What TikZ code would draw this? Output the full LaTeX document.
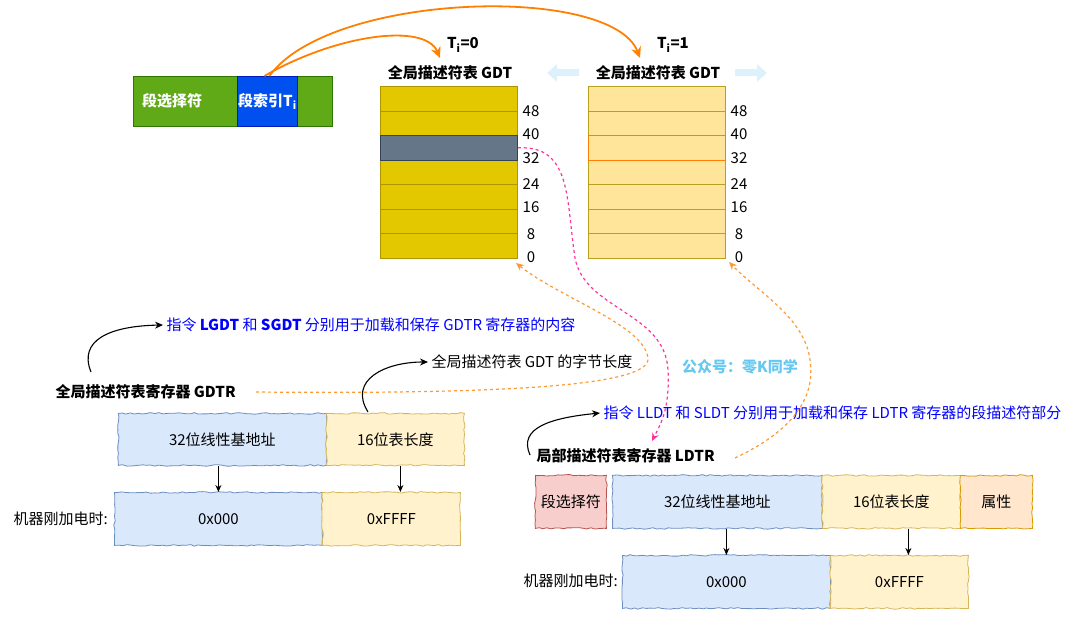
\documentclass[tikz,border=0pt]{standalone}
\usepackage{fontspec}
\setmainfont{Noto Sans CJK SC}
\usetikzlibrary{arrows.meta,decorations.pathmorphing,positioning}

\definecolor{segGreen}{HTML}{60A917}
\definecolor{segGreenLine}{HTML}{2D7600}
\definecolor{segBlue}{HTML}{0050EF}
\definecolor{segBlueLine}{HTML}{001DBC}
\definecolor{gdtFill}{HTML}{E3C800}
\definecolor{gdtLine}{HTML}{B09500}
\definecolor{selFill}{HTML}{647687}
\definecolor{selLine}{HTML}{314354}
\definecolor{ldtFill}{HTML}{FFE599}
\definecolor{ldtLine}{HTML}{B8A020}
\definecolor{arrowOrange}{HTML}{FF8000}
\definecolor{dashOrange}{HTML}{FF9933}
\definecolor{dashPink}{HTML}{FF3399}
\definecolor{paleBlue}{HTML}{DDF1FC}
\definecolor{noteBlue}{HTML}{0000FF}
\definecolor{markBlue}{HTML}{66C8F0}
\definecolor{blueFill}{HTML}{DAE8FC}
\definecolor{blueLine}{HTML}{6C8EBF}
\definecolor{yellowFill}{HTML}{FFF2CC}
\definecolor{yellowLine}{HTML}{D6B656}
\definecolor{pinkFill}{HTML}{F8CECC}
\definecolor{pinkLine}{HTML}{B85450}
\definecolor{orangeFill}{HTML}{FFE6CC}
\definecolor{orangeLine}{HTML}{D79B00}

\newcommand{\dfont}{\fontsize{15}{17}\selectfont}

\begin{document}
\begin{tikzpicture}[x=1pt, y=-1pt, font=\dfont,
        segbar/.style={draw=segGreenLine, fill=segGreen, line width=0.8pt, inner sep=0,
            minimum width=199, minimum height=50, anchor=north west},
        segidx/.style={draw=segBlueLine, fill=segBlue, line width=0.8pt, inner sep=0,
            minimum width=60, minimum height=50, anchor=north west},
        segtext/.style={text=white, font=\dfont\bfseries},
        gdtrow/.style={draw=gdtLine, fill=gdtFill, line width=0.8pt, inner sep=0,
            minimum width=137, minimum height=24.57, anchor=north west},
        gdtsel/.style={gdtrow, draw=selLine, fill=selFill},
        ldtrow/.style={gdtrow, draw=ldtLine, fill=ldtFill},
        ldtsel/.style={gdtrow, draw=arrowOrange, fill=ldtFill},
        title/.style={font=\dfont\bfseries},
        sketch/.style={line width=0.8pt, inner sep=0, anchor=north west,
            decorate, decoration={random steps, segment length=4pt, amplitude=0.8pt}},
        bluebox/.style={sketch, draw=blueLine, fill=blueFill},
        yellowbox/.style={sketch, draw=yellowLine, fill=yellowFill},
        pinkbox/.style={sketch, draw=pinkLine, fill=pinkFill},
        orangebox/.style={sketch, draw=orangeLine, fill=orangeFill},
        note/.style={anchor=west, text=noteBlue},
        pick/.style={draw=arrowOrange, line width=1.8pt, -{Stealth[length=11pt, width=10pt]}},
        orangelink/.style={draw=dashOrange, line width=1.2pt, dash pattern=on 3pt off 3pt,
            -{Stealth[length=8pt, width=7pt]}},
        pinklink/.style={draw=dashPink, line width=1.2pt, dash pattern=on 3pt off 3pt,
            -{Stealth[length=8pt, width=7pt]}},
        pointer/.style={draw=black, line width=1.1pt, -{Stealth[length=8pt, width=7pt]}},
        down/.style={draw=black, line width=1pt, -{Stealth[length=7pt, width=6pt]}},
        pale/.style={draw=paleBlue, line width=7pt, -{Triangle[length=10pt, width=17pt]}}
    ]
    \useasboundingbox (0,0) rectangle (1075,620);

    % selector
    \node[segbar] (sBar) at (133,76) {};
    \node[segidx] (sIdx) at (237,76) {};
    \node[segtext] (sSel) at (172,101) {段选择符};
    \node[segtext] (sIdxText) at (sIdx.center) {段索引T\textsubscript{i}};

    % the two tables
    \foreach \i/\gst/\lst in {1/gdtrow/ldtrow, 2/gdtrow/ldtrow, 4/gdtrow/ldtrow, 5/gdtrow/ldtrow,
            6/gdtrow/ldtrow, 7/gdtrow/ldtrow, 3/gdtsel/ldtsel}{
        \node[\gst] (g\i) at (380, {86+(\i-1)*24.57}) {};
        \node[\lst] (l\i) at (588, {86+(\i-1)*24.57}) {};
    }
    \foreach \lab/\yy in {48/111, 40/134, 32/158, 24/184, 16/207, 8/234, 0/257}{
        \node (ga\lab) at (531,\yy) {\lab};
        \node (la\lab) at (739,\yy) {\lab};
    }
    \node[title] (t1) at (450,73) {全局描述符表 GDT};
    \node[title] (t2) at (658,73) {全局描述符表 GDT};
    \node[title] (ti0) at (463,45) {T\textsubscript{i}=0};
    \node[title] (ti1) at (673,45) {T\textsubscript{i}=1};

    % pale arrows beside the titles
    \coordinate (pl1) at (579,73);
    \coordinate (pl0) at (547,73);
    \coordinate (pr0) at (735,73);
    \coordinate (pr1) at (767,73);
    \draw[pale] (pl1) -- (pl0);
    \draw[pale] (pr0) -- (pr1);

    % index picks a table
    \coordinate (in0) at (440,58);
    \coordinate (in1) at (640,58);
    \draw[pick] ([xshift=-3]sIdx.north) .. controls (335,35) and (425,22) .. (in0);
    \draw[pick] ([xshift=2]sIdx.north) .. controls (330,-8) and (612,-16) .. (in1);

    % GDTR
    \node[title, anchor=west] (gdtrLbl) at (52,392) {全局描述符表寄存器 GDTR};
    \node[note] (gdtrNote) at (163,325) {指令 \textbf{LGDT} 和 \textbf{SGDT} 分别用于加载和保存 GDTR 寄存器的内容};
    \node[anchor=west] (lenNote) at (428,362) {全局描述符表 GDT 的字节长度};
    \node[bluebox, minimum width=208, minimum height=52] (gBase) at (118,413) {32位线性基地址};
    \node[yellowbox, minimum width=138, minimum height=52] (gLen) at (326,413) {16位表长度};
    \node[bluebox, minimum width=208, minimum height=53] (gZero) at (114,492) {0x000};
    \node[yellowbox, minimum width=138, minimum height=53] (gFFFF) at (322,492) {0xFFFF};
    \node[anchor=west] (gPower) at (10,519) {机器刚加电时:};

    \coordinate (gdtrUp) at (91,372);
    \coordinate (lenUp) at (368,412);
    \draw[pointer] (gdtrUp) .. controls (78,340) and (110,326) .. (gdtrNote.west);
    \draw[pointer] (lenUp) .. controls (348,380) and (385,362) .. (lenNote.west);
    \draw[down] (gZero.north |- gBase.south) -- (gZero.north);
    \draw[down] ([xshift=5]gLen.south) -- ([xshift=5]gLen.south |- gFFFF.north);

    % LDTR
    \node[title, anchor=west] (ldtrLbl) at (533,456) {局部描述符表寄存器 LDTR};
    \node[note] (ldtrNote) at (600,413) {指令 LLDT 和 SLDT 分别用于加载和保存 LDTR 寄存器的段描述符部分};
    \node[pinkbox, minimum width=71, minimum height=53] (lSel) at (535,475) {段选择符};
    \node[bluebox, minimum width=210, minimum height=53] (lBase) at (612,475) {32位线性基地址};
    \node[yellowbox, minimum width=138, minimum height=53] (lLen) at (822,475) {16位表长度};
    \node[orangebox, minimum width=72, minimum height=53] (lAttr) at (960,475) {属性};
    \node[bluebox, minimum width=208, minimum height=53] (lZero) at (622,555) {0x000};
    \node[yellowbox, minimum width=138, minimum height=53] (lFFFF) at (830,555) {0xFFFF};
    \node[anchor=west] (lPower) at (520,581) {机器刚加电时:};

    \coordinate (ldtrUp) at (530,455);
    \draw[pointer] (ldtrUp) .. controls (518,428) and (550,418) .. (ldtrNote.west);
    \draw[down] (lZero.north |- lBase.south) -- (lZero.north);
    \draw[down] ([xshift=9]lFFFF.north |- lLen.south) -- ([xshift=9]lFFFF.north);

    % watermark
    \node[font=\dfont\bfseries, text=markBlue] (mark) at (740,367) {公众号：零K同学};

    % dashed links
    \coordinate (gdtrEnd) at (256,392);
    \coordinate (g0) at (516,263);
    \coordinate (ldtrEnd) at (735,458);
    \coordinate (l0) at (729,262);
    \coordinate (ldtrIn) at (652,441);
    \draw[orangelink] (gdtrEnd) .. controls (480,394) and (652,388) .. (648,358)
        .. controls (644,325) and (560,298) .. (g0);
    \draw[orangelink] (ldtrEnd) .. controls (790,432) and (816,400) .. (810,360)
        .. controls (805,318) and (758,292) .. (l0);
    \draw[pinklink] (g3.east) .. controls (572,145) and (566,200) .. (575,258)
        .. controls (585,310) and (665,312) .. (668,370)
        .. controls (670,410) and (660,425) .. (ldtrIn);
\end{tikzpicture}
\end{document}
